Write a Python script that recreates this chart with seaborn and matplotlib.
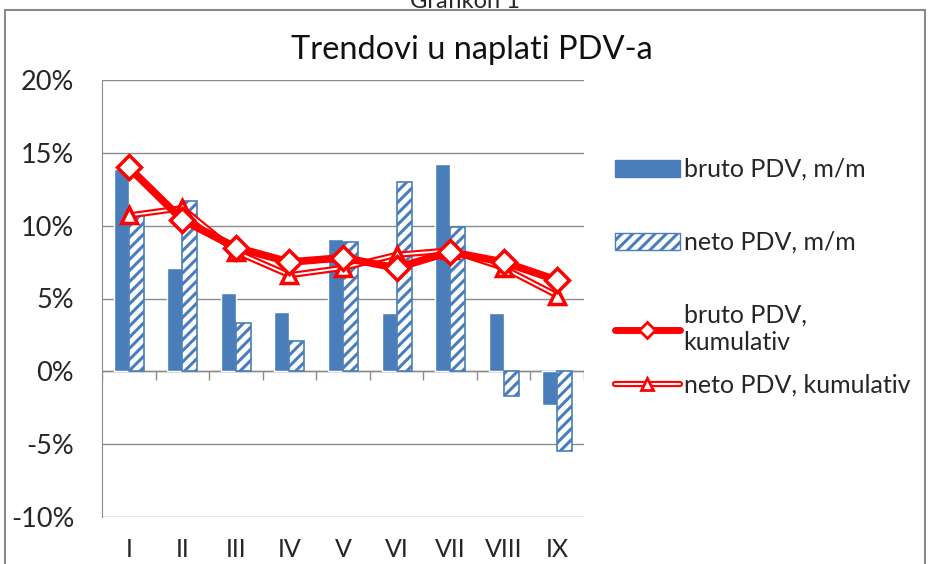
import numpy as np
import pandas as pd
import matplotlib
matplotlib.use("Agg")
import matplotlib.pyplot as plt
import seaborn as sns
from matplotlib.patches import Patch, Rectangle
from matplotlib.lines import Line2D
from matplotlib.legend_handler import HandlerTuple

# data (percent)
mjeseci = ["I", "II", "III", "IV", "V", "VI", "VII", "VIII", "IX"]
bruto_mm = [13.9, 7.1, 5.4, 4.05, 9.1, 4.0, 14.2, 4.0, -2.3]
neto_mm = [10.7, 11.7, 3.3, 2.05, 8.9, 13.0, 9.9, -1.7, -5.5]
bruto_kum = [14.0, 10.4, 8.5, 7.5, 7.8, 7.1, 8.2, 7.5, 6.25]
neto_kum = [10.7, 11.2, 8.2, 6.6, 7.1, 8.0, 8.3, 7.1, 5.2]
serije = ["bruto PDV, m/m", "neto PDV, m/m", "bruto PDV,\nkumulativ", "neto PDV, kumulativ"]

blue = "#4a7ebb"
red = "#ff0000"
grid_c = "#8c8c8c"
txt_c = "#262626"

sns.set_style("white")
plt.rcParams["font.family"] = ["Lato", "DejaVu Sans"]
plt.rcParams["hatch.linewidth"] = 2.2
plt.rcParams["hatch.color"] = blue

df = pd.DataFrame({
    "mjesec": mjeseci * 2,
    "vrijednost": bruto_mm + neto_mm,
    "serija": [serije[0]] * 9 + [serije[1]] * 9,
})

fig = plt.figure(figsize=(9.29, 5.64), dpi=100)
ax = fig.add_axes([102 / 929, 47 / 564, 482 / 929, 437 / 564])

sns.barplot(data=df, x="mjesec", y="vrijednost", hue="serija", palette=[blue, blue],
            width=0.56, saturation=1, legend=False, ax=ax, zorder=2)
for p in ax.patches[9:18]:
    p.set_facecolor("white")
    p.set_edgecolor(blue)
    p.set_hatch("///")
    p.set_linewidth(1.2)

x = np.arange(len(mjeseci))
# neto kumulativ: double red line
ax.plot(x, neto_kum, color=red, lw=4.5, zorder=3, solid_capstyle="round")
ax.plot(x, neto_kum, color="white", lw=1.4, zorder=3.1)
sns.lineplot(x=x, y=neto_kum, ax=ax, color=red, lw=0, marker="^", markersize=11,
             markerfacecolor="white", markeredgecolor=red, markeredgewidth=2.5, zorder=3.2)
# bruto kumulativ
sns.lineplot(x=x, y=bruto_kum, ax=ax, color=red, lw=5.5, marker="D", markersize=12,
             markerfacecolor="white", markeredgecolor=red, markeredgewidth=2.5, zorder=4)

ax.set_xlim(-0.5, 8.5)
ax.set_ylim(-10, 20)
ax.set_yticks(np.arange(-10, 21, 5))
ax.set_yticklabels([f"{v}%" for v in range(-10, 21, 5)], fontsize=19.5, color=txt_c)
ax.set_xticks(x)
ax.set_xticklabels(mjeseci, fontsize=18, color=txt_c)
ax.tick_params(axis="x", length=0, pad=15)
ax.tick_params(axis="y", length=7, color=grid_c, width=1, pad=13)
ax.set_xlabel("")
ax.set_ylabel("")
ax.yaxis.grid(True, color=grid_c, lw=1)
ax.set_axisbelow(True)
for s in ["top", "right", "bottom"]:
    ax.spines[s].set_visible(False)
ax.spines["left"].set_color(grid_c)

# zero axis with tick marks between categories
ax.axhline(0, color=grid_c, lw=1, zorder=1.5)
ax.vlines(np.arange(-0.5, 9.0, 1.0), -0.6, 0, color=grid_c, lw=1, zorder=1.5)

fig.text(472 / 929, 1 - 50 / 564, "Trendovi u naplati PDV-a", fontsize=23.5,
         ha="center", va="center", color="#111111")
fig.text(0.5, 1 - 8 / 564, "Grafikon 1", fontsize=17, ha="center", va="baseline", color=txt_c)

# chart frame
fig.patches.append(Rectangle((5 / 929, -0.02), 920 / 929, 1.0 - 10 / 564 + 0.02,
                             transform=fig.transFigure, fill=False,
                             edgecolor="#8a8a8a", lw=1.5))

handles = [
    Patch(facecolor=blue, edgecolor=blue),
    Patch(facecolor="white", edgecolor=blue, hatch="///"),
    Line2D([], [], color=red, lw=5, marker="D", markersize=8, markerfacecolor="white",
           markeredgecolor=red, markeredgewidth=2),
    (Line2D([], [], color=red, lw=4.5), Line2D([], [], color="white", lw=1.4),
     Line2D([], [], lw=0, marker="^", markersize=9, markerfacecolor="white",
            markeredgecolor=red, markeredgewidth=2)),
]
leg_kw = dict(frameon=False, fontsize=18, handlelength=2.6, handletextpad=0.15,
              borderpad=0, borderaxespad=0,
              handler_map={tuple: HandlerTuple(ndivide=1, pad=0)})
fig.legend(handles[:3], serije[:3], loc="upper left",
           bbox_to_anchor=(615 / 929, 1 - 158 / 564), labelspacing=2.0, **leg_kw)
fig.legend(handles[3:], serije[3:], loc="center left",
           bbox_to_anchor=(615 / 929, 1 - 385 / 564), **leg_kw)

fig.savefig("out.png", dpi=100)
